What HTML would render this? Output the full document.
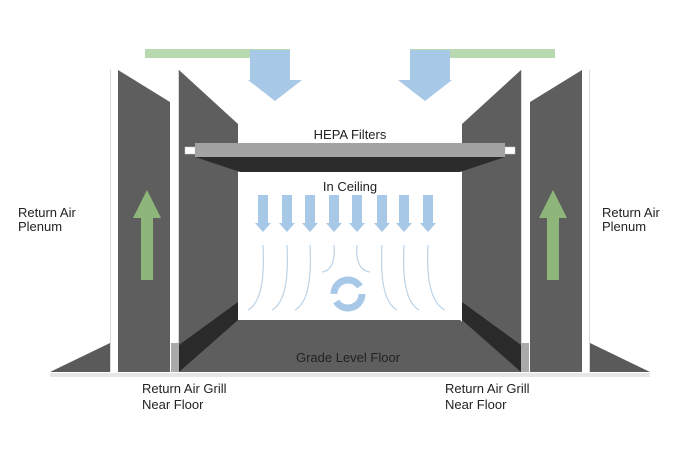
<!DOCTYPE html><html><head><style>body{margin:0;background:#fff}svg{display:block}text{font-family:"Liberation Sans",sans-serif}</style></head><body>
<svg width="700" height="450" viewBox="0 0 700 450">
<defs>
<g id="side">
<polygon points="50,372 110,343 110,372" fill="#5a5a5a"/>
<line x1="110.5" y1="70" x2="110.5" y2="372" stroke="#d8d8d8" stroke-width="1"/>
<line x1="178.5" y1="70" x2="178.5" y2="372" stroke="#d8d8d8" stroke-width="1"/>
<polygon points="118,70 170,102 170,372 118,372" fill="#5e5e5e"/>
<polygon points="179,70 238,124 238,372 179,372" fill="#5e5e5e"/>
<polygon points="238,302 238,320 179,372 179,345" fill="#2a2a2a"/>
<rect x="171" y="343" width="8" height="29" fill="#aaa"/>
<polygon points="141,280 153,280 153,218 161,218 147,190 133,218 141,218" fill="#8fb67a"/>
<rect x="145" y="49" width="145" height="9" fill="#b8d8b0"/>
<polygon points="250,50 290,50 290,80 302,80 275,101 248,80 250,80" fill="#a7c8e6"/>
<rect x="185" y="147" width="10" height="7" fill="#fff" stroke="#ccc" stroke-width="0.5"/>
</g>
<g id="arr"><polygon points="-5,0 5,0 5,28 8,28 0,37 -8,28 -5,28" fill="#a7c8e6"/></g>
</defs>
<polygon points="238,320 460,320 520,372 179,372" fill="#5e5e5e"/>
<use href="#side"/>
<use href="#side" transform="translate(700,0) scale(-1,1)"/>
<rect x="50" y="373" width="600" height="4" fill="#e6e6e6"/>
<polygon points="195,157 505,157 460,172 240,172" fill="#2c2c2c"/>
<rect x="195" y="143" width="310" height="14" fill="#a3a3a3"/>
<text x="350" y="139" font-size="13" text-anchor="middle" fill="#222">HEPA Filters</text>
<text x="350" y="191" font-size="13" text-anchor="middle" fill="#222">In Ceiling</text>
<use href="#arr" x="263" y="195"/><use href="#arr" x="287" y="195"/><use href="#arr" x="310" y="195"/><use href="#arr" x="334" y="195"/><use href="#arr" x="357" y="195"/><use href="#arr" x="382" y="195"/><use href="#arr" x="404" y="195"/><use href="#arr" x="428" y="195"/>
<g fill="none" stroke="#bcd3e6" stroke-width="1.2">
<path d="M263,245 Q266,300 248,310"/><path d="M287,245 Q290,300 272,310"/><path d="M310,245 Q313,300 295,310"/>
<path d="M334,245 Q336,270 322,272"/><path d="M357,245 Q355,270 370,272"/>
<path d="M382,245 Q379,300 397,310"/><path d="M404,245 Q401,300 419,310"/><path d="M428,245 Q425,300 445,310"/>
</g>
<circle cx="348" cy="294" r="14" fill="none" stroke="#a7c8e6" stroke-width="7" stroke-dasharray="36 8"/>
<text x="348" y="362" font-size="13" text-anchor="middle" fill="#222">Grade Level Floor</text>
<g font-size="13" fill="#222">
<text x="18" y="217">Return Air</text><text x="18" y="231">Plenum</text>
<text x="602" y="217">Return Air</text><text x="602" y="231">Plenum</text>
<text x="142" y="393">Return Air Grill</text><text x="142" y="409">Near Floor</text>
<text x="445" y="393">Return Air Grill</text><text x="445" y="409">Near Floor</text>
</g>
</svg></body></html>
